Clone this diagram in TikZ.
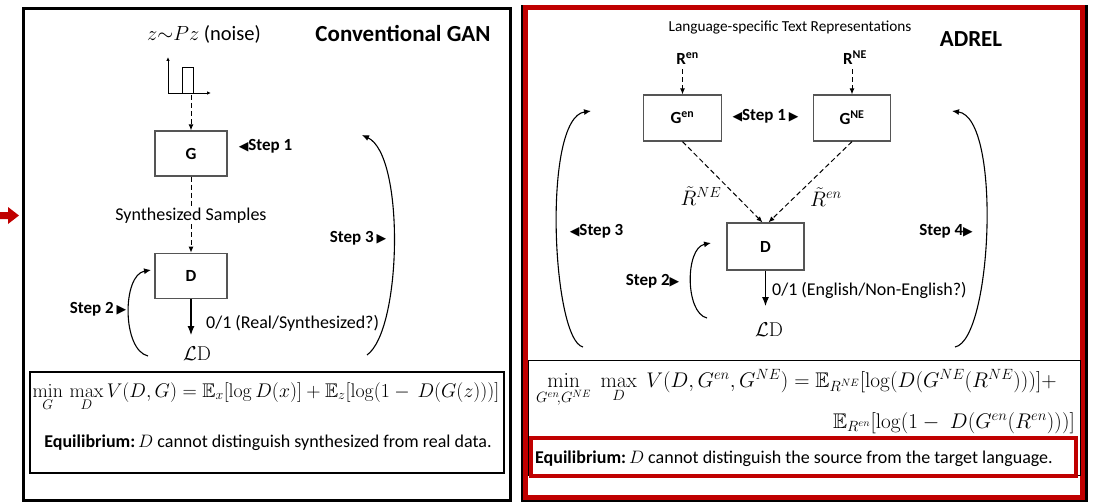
\documentclass[tikz,border=0pt]{standalone}
\usepackage{fix-cm}
\usepackage{amsmath,amssymb}
\usepackage[no-math]{fontspec}
\setmainfont{Carlito}
\newfontfamily\trifont{DejaVu Sans}
\usetikzlibrary{arrows.meta,calc}

\definecolor{framered}{RGB}{192,0,0}
\definecolor{boxgray}{RGB}{85,85,85}

% small pointer triangles next to the step labels
\newcommand\tril{{\trifont\fontsize{12.5pt}{10pt}\selectfont ◀}}
\newcommand\trir{{\trifont\fontsize{12.5pt}{10pt}\selectfont ▶}}

\tikzset{
  panelframe/.style={draw=black, line width=3pt},
  redframe/.style={draw=framered, line width=5pt},
  blk/.style={draw=boxgray, line width=1.2pt, minimum height=45pt, inner sep=0pt,
    font=\bfseries\fontsize{17pt}{20pt}\selectfont},
  lbl/.style={inner sep=1pt, font=\fontsize{18pt}{21pt}\selectfont},
  smalllbl/.style={inner sep=0pt, font=\fontsize{15.3pt}{18pt}\selectfont},
  steplbl/.style={inner sep=0pt, font=\bfseries\fontsize{17pt}{20pt}\selectfont},
  rlbl/.style={inner sep=0pt, font=\bfseries\fontsize{17pt}{20pt}\selectfont},
  paneltitle/.style={inner sep=0pt, font=\bfseries\fontsize{23pt}{27pt}\selectfont},
  mathlbl/.style={inner sep=0pt, font=\fontsize{20.5pt}{24pt}\selectfont},
  lossl/.style={inner sep=0pt, font=\fontsize{20pt}{24pt}\selectfont},
  eqlbl/.style={inner sep=0pt, font=\fontsize{18pt}{22pt}\selectfont},
  dashline/.style={draw=black, line width=1pt, dash pattern=on 5pt off 3pt},
  dasharrow/.style={dashline, -{Latex[length=6pt,width=5pt]}},
  solidarrow/.style={draw=black, line width=1.1pt, -{Latex[length=9pt,width=7pt]}},
  curvearrow/.style={draw=black, line width=1.1pt, -{Latex[length=7pt,width=6pt]}},
  axis/.style={draw=black, line width=0.9pt, -{Latex[length=4pt,width=3.5pt]}},
}

\begin{document}
\begin{tikzpicture}[x=1pt,y=-1pt]
\useasboundingbox (0,0) rectangle (1096,503);

% ---------------- Conventional GAN panel ----------------
\draw[panelframe] (23.5,8.5) rectangle (510.5,500);
\fill[framered] (-2,212) -- (8,212) -- (8,207) -- (19,215.5) -- (8,224) -- (8,219) -- (-2,219) -- cycle;

\node[lbl, font=\fontsize{20.5pt}{24pt}\selectfont] (noise) at (204,34) {$z{\sim}Pz$ (noise)};
\node[paneltitle] (gantitle) at (403,33) {Conventional GAN};

% noise distribution sketch
\coordinate (orig) at (168,93);
\coordinate (yax) at (168,57);
\coordinate (xax) at (211,93);
\draw[axis] (orig) -- (yax);
\draw[axis] (orig) -- (xax);
\draw[line width=0.9pt] (orig) -- (182,93) -- (182,67) -- (193,67) -- (193,93);
\coordinate (pulse) at (191,95);

\node[blk, minimum width=72pt] (G) at (191,153.5) {G};
\draw[dasharrow] (pulse) -- (G.north);

\node[lbl, fill=white] (synth) at (191,215.5) {Synthesized Samples};
\draw[dashline] (G.south) -- (synth.north);

\node[blk, minimum width=72pt] (D) at (191,275.8) {D};
\draw[dasharrow] (synth.south) -- (D.north);

\coordinate (Dout) at (191,335);
\draw[solidarrow] (D.south) -- (Dout);
\node[lbl, anchor=west] (dval) at (205,323) {0/1 (Real/Synthesized?)};
\node[lossl] (LD) at (197,354) {$\mathcal{L}\mathrm{D}$};

\node[steplbl] (s1) at (265.5,146) {\tril Step 1};

\coordinate (s2a) at (148,356);
\coordinate (s2b) at (151,270);
\draw[curvearrow] (s2a) .. controls (122,350) and (122,275) .. (s2b);
\node[steplbl] (s2) at (98,309) {Step 2\,\trir};

\coordinate (s3a) at (367,355);
\coordinate (s3b) at (362,135);
\draw[curvearrow] (s3a) .. controls (402,330) and (405,155) .. (s3b);
\node[steplbl] (s3) at (358,238) {Step 3\,\trir};

\node[draw=black, line width=1.8pt, minimum width=474pt, minimum height=101pt, inner sep=0pt] (lbox) at (267,422.5) {};
\node[mathlbl, font=\fontsize{19.8pt}{24pt}\selectfont, anchor=base] (lform) at (266,397)
  {$\min\limits_{G}\,\max\limits_{D} V(D,G) = \mathbb{E}_{x}[\log D(x)] + \mathbb{E}_{z}[\log(1-\,D(G(z)))]$};
\node[eqlbl, anchor=base] (leq) at (268,447)
  {\textbf{Equilibrium:}\,$D$ cannot distinguish synthesized from real data.};

% ---------------- ADREL panel ----------------
\draw[panelframe] (522,7) rectangle (1086.5,500.5);
\draw[redframe] (525.5,7.5) rectangle (1082.5,497.5);

\node[smalllbl] (lang) at (790,27.5) {Language-specific Text Representations};
\node[paneltitle] (adrel) at (971,39.5) {ADREL};

\node[blk, minimum width=78pt, minimum height=46pt] (Gen) at (682.5,118) {G\textsuperscript{en}};
\node[blk, minimum width=77pt, minimum height=46pt] (GNE) at (852,118) {G\textsuperscript{NE}};

\node[rlbl, anchor=base] (Ren) at (687.5,65) {R\textsuperscript{en}};
\node[rlbl, anchor=base] (RNE) at (855,65) {R\textsuperscript{NE}};
\draw[dasharrow] ([yshift=-4pt]Ren.south -| Gen.north) -- (Gen.north);
\draw[dasharrow] ([yshift=-4pt]RNE.south -| GNE.north) -- (GNE.north);

\node[steplbl] (s1r) at (765.5,116) {\tril Step 1\,\trir};

\node[blk, minimum width=77pt, minimum height=47pt] (Dr) at (765.5,246.5) {D};
\draw[dasharrow] (Gen.south) -- ($(Dr.north)+(-3,0)$);
\draw[dasharrow] (GNE.south) -- ($(Dr.north)+(3,0)$);

\node[mathlbl, font=\fontsize{21pt}{24pt}\selectfont] (rtne) at (701,196) {$\tilde{R}^{NE}$};
\node[mathlbl, font=\fontsize{21pt}{24pt}\selectfont] (rten) at (826,197) {$\tilde{R}^{en}$};

\coordinate (Drout) at (765.5,306);
\draw[solidarrow] (Dr.south) -- (Drout);
\node[lbl, anchor=west] (dvalr) at (771,290) {0/1 (English/Non-English?)};
\node[lossl] (LDr) at (769,330) {$\mathcal{L}\mathrm{D}$};

\coordinate (s2ra) at (707,318);
\coordinate (s2rb) at (711,243);
\draw[curvearrow] (s2ra) .. controls (685,313) and (685,248) .. (s2rb);
\node[steplbl] (s2r) at (652.5,281.5) {Step 2\trir};

\coordinate (s3ra) at (583,347);
\coordinate (s3rb) at (591,111);
\draw[curvearrow] (s3ra) .. controls (552,340) and (542,118) .. (s3rb);
\node[steplbl] (s3r) at (596.6,231) {\tril Step 3};

\coordinate (s4ra) at (955,347);
\coordinate (s4rb) at (952,111);
\draw[curvearrow] (s4ra) .. controls (992,340) and (1002,118) .. (s4rb);
\node[steplbl] (s4r) at (946,231) {Step 4\trir};

\node[draw=black, line width=1.5pt, minimum width=552pt, minimum height=115pt, inner sep=0pt] (rbox) at (804.5,418) {};
\node[draw=framered, line width=4pt, minimum width=545pt, minimum height=38pt, inner sep=0pt] (eqbox) at (803.5,457) {};

\node[mathlbl, font=\fontsize{21.2pt}{24pt}\selectfont, anchor=base west] (rform1) at (536,387)
  {$\min\limits_{G^{en}\!,G^{NE}}\;\max\limits_{D}\; V(D,G^{en},G^{NE}) = \mathbb{E}_{R^{NE}}[\log(D(G^{NE}(R^{NE})))] +$};
\node[mathlbl, font=\fontsize{21.2pt}{24pt}\selectfont, anchor=base east] (rform2) at (1075,428)
  {$\mathbb{E}_{R^{en}}[\log(1-\;D(G^{en}(R^{en})))]$};
\node[eqlbl, anchor=base west] (req) at (535,463)
  {\textbf{Equilibrium:}\,$D$ cannot distinguish the source from the target language.};

\end{tikzpicture}
\end{document}
